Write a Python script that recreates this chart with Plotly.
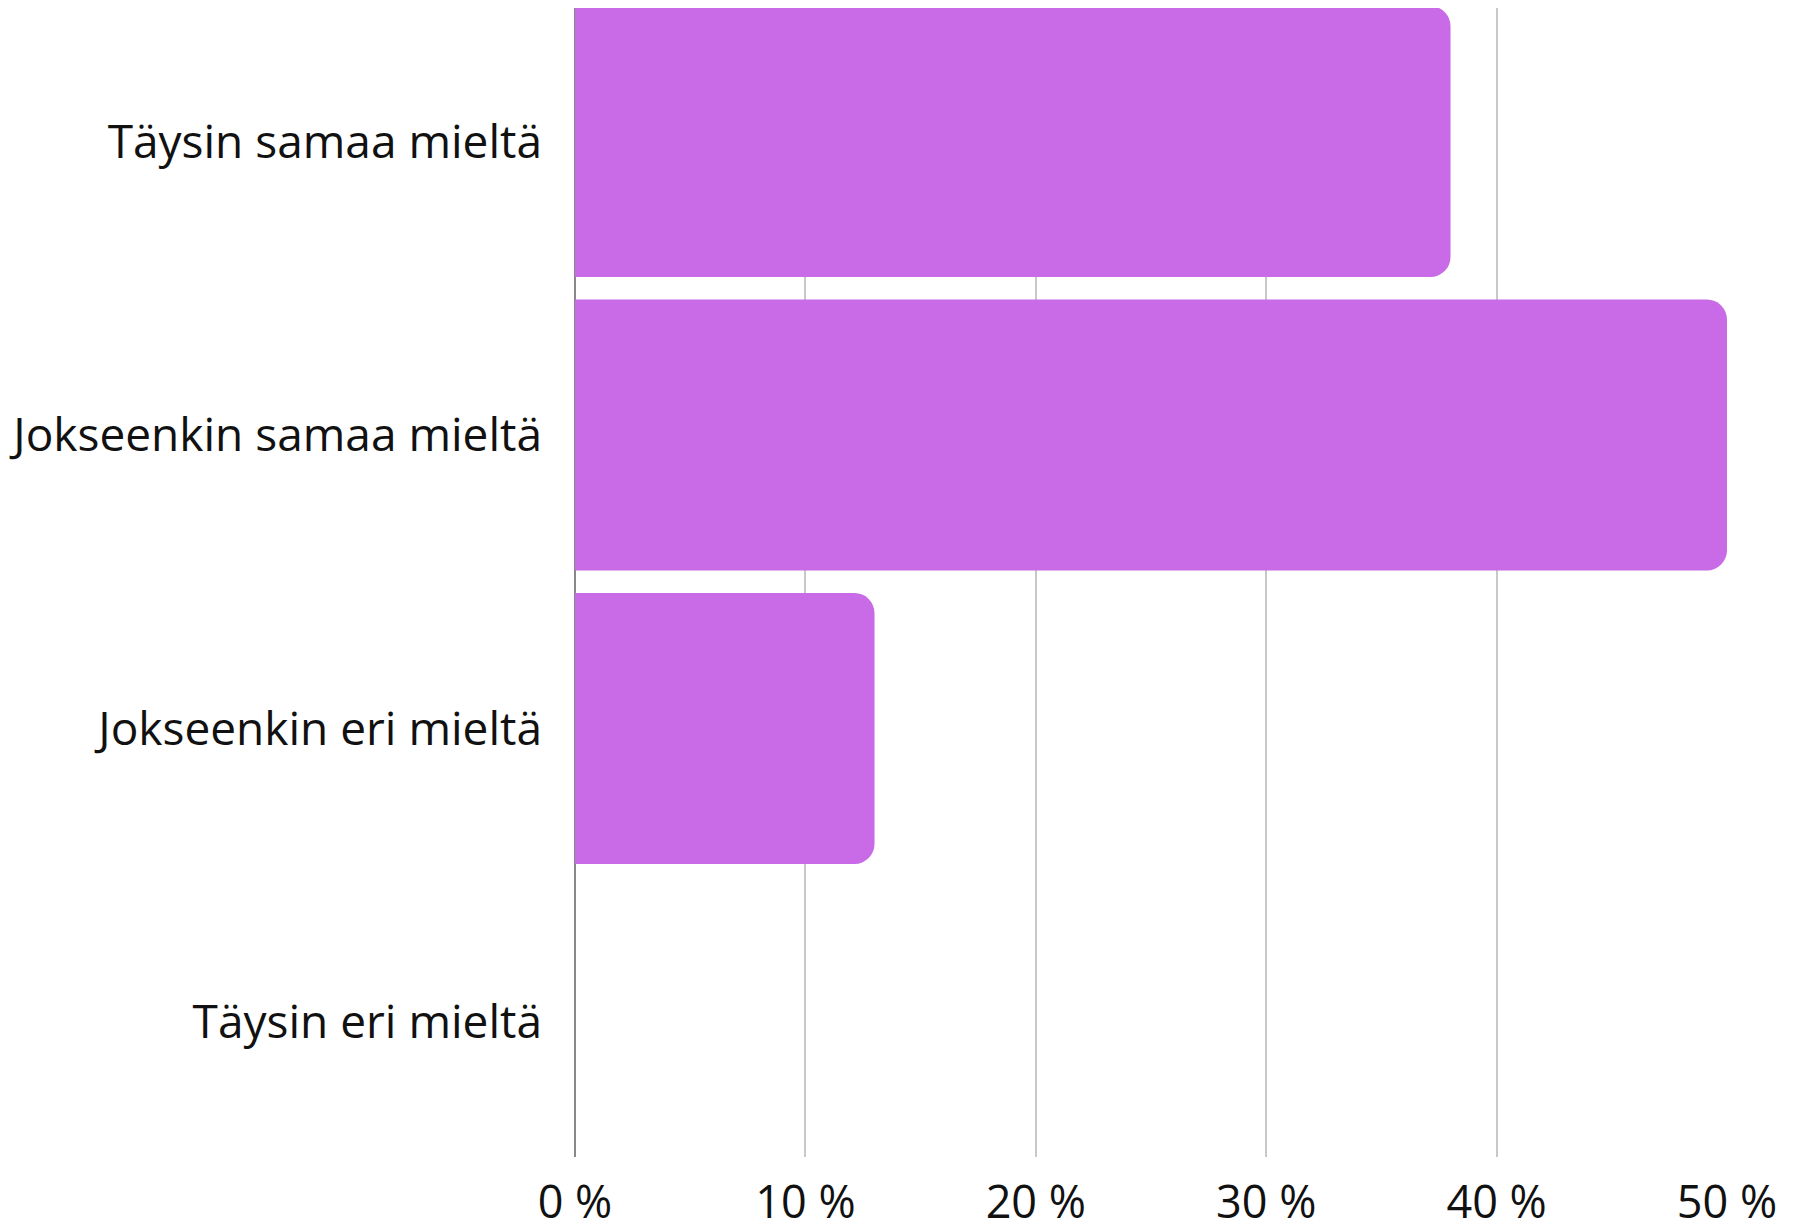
import plotly.graph_objects as go

categories = ["Täysin samaa mieltä", "Jokseenkin samaa mieltä", "Jokseenkin eri mieltä", "Täysin eri mieltä"]
values = [38, 50, 13, 0]
tick_vals = [0, 10, 20, 30, 40, 50]
tick_text = ["0 %", "10 %", "20 %", "30 %", "40 %", "50 %"]

FONT = "Open Sans"

fig = go.Figure(go.Bar(
    x=values,
    y=categories,
    orientation="h",
    marker=dict(color="#C96BE6", cornerradius=20, line=dict(width=0)),
    width=0.923,
    hoverinfo="x+y",
))

fig.update_layout(
    width=1782,
    height=1216,
    margin=dict(l=567, r=63, t=0, b=67, pad=0, autoexpand=False),
    paper_bgcolor="white",
    plot_bgcolor="white",
    showlegend=False,
    font=dict(family=FONT, size=46, color="#111111"),
    xaxis=dict(
        range=[0, 50],
        tickvals=tick_vals,
        ticktext=tick_text,
        showgrid=True,
        gridcolor="#C8C8C8",
        gridwidth=2,
        zeroline=True,
        zerolinecolor="#888888",
        zerolinewidth=2,
        showline=False,
        ticks="",
        ticklabelstandoff=15,
        tickfont=dict(family=FONT, size=45, color="#111111"),
        automargin=False,
        fixedrange=True,
    ),
    yaxis=dict(
        type="category",
        categoryorder="array",
        categoryarray=categories,
        range=[3.46, -0.455],
        showgrid=False,
        zeroline=False,
        showline=False,
        ticks="",
        ticklabelstandoff=32,
        tickfont=dict(family=FONT, size=46, color="#111111"),
        automargin=False,
        fixedrange=True,
    ),
)

fig.write_html("out.html")
